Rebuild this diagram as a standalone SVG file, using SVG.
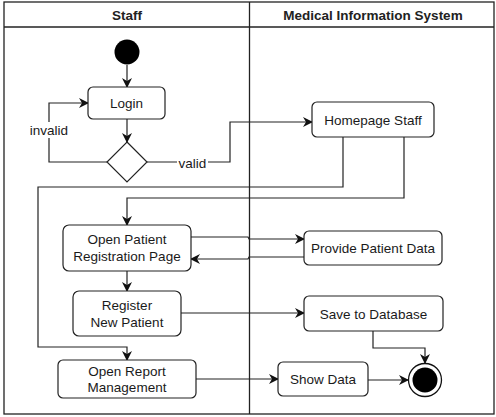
<svg xmlns="http://www.w3.org/2000/svg" width="496" height="417" viewBox="0 0 496 417">
  <style>
    .frame { fill: #ffffff; stroke: #222222; stroke-width: 1.3; }
    .node { fill: #ffffff; stroke: #222222; stroke-width: 1.2; }
    .edge { fill: none; stroke: #222222; stroke-width: 1.2; }
    .head { font-family: "Liberation Sans", Arial, sans-serif; font-size: 13.5px; font-weight: bold; fill: #222222; text-anchor: middle; }
    .lbl { font-family: "Liberation Sans", Arial, sans-serif; font-size: 13.5px; fill: #1a1a1a; text-anchor: middle; }
    .elbl { font-family: "Liberation Sans", Arial, sans-serif; font-size: 13.5px; fill: #1a1a1a; text-anchor: middle; }
  </style>
  <defs>
    <marker id="arrow" viewBox="0 0 10 10" refX="9" refY="5" markerWidth="10" markerHeight="10" markerUnits="userSpaceOnUse" orient="auto">
      <path d="M0,0 L10,5 L0,10 L3,5 Z" fill="#111111"/>
    </marker>
  </defs>

  <!-- swimlane frame -->
  <g id="lanes">
    <rect class="frame" x="4" y="2" width="490" height="412"/>
    <line class="frame" x1="4" y1="27" x2="494" y2="27"/>
    <line class="frame" x1="249.5" y1="2" x2="249.5" y2="414"/>
    <text class="head" x="127" y="19.5">Staff</text>
    <text class="head" x="373" y="19.5">Medical Information System</text>
  </g>

  <!-- connectors -->
  <g id="connectors">
    <line class="edge" x1="127" y1="65" x2="127" y2="87" marker-end="url(#arrow)"/>
    <line class="edge" x1="127" y1="119" x2="127" y2="142" marker-end="url(#arrow)"/>
    <polyline class="edge" points="107,162 49,162 49,103 88,103" marker-end="url(#arrow)"/>
    <polyline class="edge" points="147,162 230,162 230,122 312,122" marker-end="url(#arrow)"/>
    <polyline class="edge" points="343,137 343,187 38,187 38,347 127,347 127,360" marker-end="url(#arrow)"/>
    <polyline class="edge" points="404,137 404,198 127,198 127,225" marker-end="url(#arrow)"/>
    <polyline class="edge" points="191,237 248,237 249,239 304,239" marker-end="url(#arrow)"/>
    <polyline class="edge" points="304,257 249,257 248,259 191,259" marker-end="url(#arrow)"/>
    <line class="edge" x1="127" y1="271" x2="127" y2="291" marker-end="url(#arrow)"/>
    <line class="edge" x1="181" y1="313" x2="304" y2="313" marker-end="url(#arrow)"/>
    <polyline class="edge" points="373,331 373,348 425,348 425,363" marker-end="url(#arrow)"/>
    <line class="edge" x1="196" y1="379" x2="278" y2="379" marker-end="url(#arrow)"/>
    <line class="edge" x1="368" y1="380" x2="408" y2="380" marker-end="url(#arrow)"/>
    <!-- guard labels -->
    <rect x="28" y="122" width="42" height="16" fill="#ffffff"/>
    <text class="elbl" x="49" y="134.5">invalid</text>
    <rect x="177" y="155" width="31" height="15" fill="#ffffff"/>
    <text class="elbl" x="192.5" y="167.5">valid</text>
  </g>

  <g id="start">
    <circle cx="127" cy="52" r="12.5" fill="#000000"/>
  </g>

  <g id="login">
    <rect class="node" x="88" y="87" width="77" height="32" rx="5"/>
    <text class="lbl" x="126.5" y="108">Login</text>
  </g>

  <g id="decision">
    <polygon class="node" points="127,142 147,162 127,182 107,162"/>
  </g>

  <g id="homepage-staff">
    <rect class="node" x="312" y="102" width="122" height="35" rx="5"/>
    <text class="lbl" x="373" y="124.5">Homepage Staff</text>
  </g>

  <g id="open-patient-registration">
    <rect class="node" x="63" y="225" width="128" height="46" rx="6"/>
    <text class="lbl" x="127" y="244">Open Patient</text>
    <text class="lbl" x="127" y="261">Registration Page</text>
  </g>

  <g id="provide-patient-data">
    <rect class="node" x="304" y="231" width="138" height="34" rx="5"/>
    <text class="lbl" x="373" y="253">Provide Patient Data</text>
  </g>

  <g id="register-new-patient">
    <rect class="node" x="73" y="291" width="108" height="45" rx="6"/>
    <text class="lbl" x="127" y="309.5">Register</text>
    <text class="lbl" x="127" y="326.5">New Patient</text>
  </g>

  <g id="save-to-database">
    <rect class="node" x="304" y="296" width="139" height="35" rx="5"/>
    <text class="lbl" x="373.5" y="318.5">Save to Database</text>
  </g>

  <g id="open-report-management">
    <rect class="node" x="58" y="360" width="138" height="38" rx="5"/>
    <text class="lbl" x="127" y="376">Open Report</text>
    <text class="lbl" x="127" y="392">Management</text>
  </g>

  <g id="show-data">
    <rect class="node" x="278" y="362" width="90" height="34" rx="5"/>
    <text class="lbl" x="323" y="383.5">Show Data</text>
  </g>

  <g id="end">
    <circle cx="425" cy="380" r="16.5" fill="#ffffff" stroke="#111111" stroke-width="1.3"/>
    <circle cx="425" cy="380" r="12.5" fill="#000000"/>
  </g>
</svg>
